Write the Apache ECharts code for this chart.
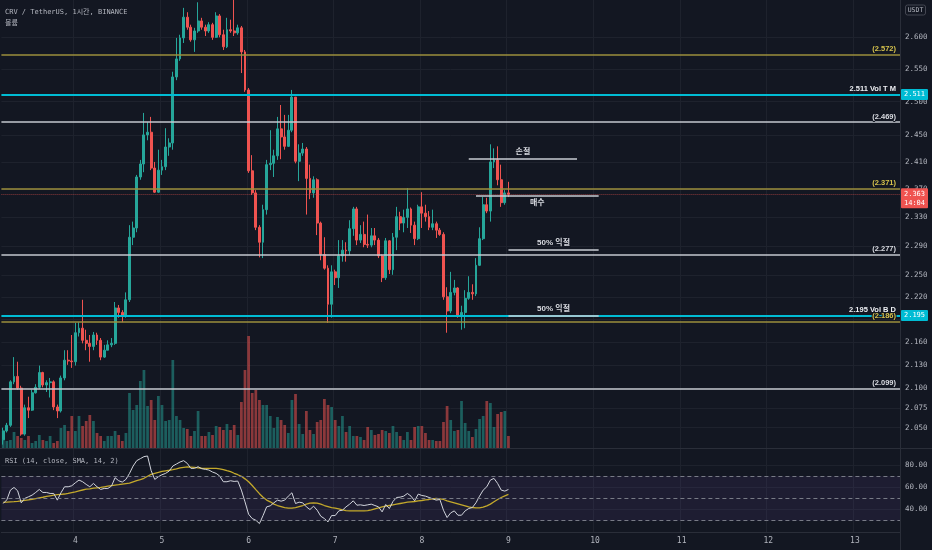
<!DOCTYPE html>
<html><head><meta charset="utf-8">
<script src="https://cdn.jsdelivr.net/npm/echarts@6/dist/echarts.min.js"></script>
<style>html,body{margin:0;padding:0;background:#131722;}#c{width:932px;height:550px;}</style>
</head><body><div id="c"></div>
<script>
// ---------- data ----------
const opens = [2.035,2.046,2.053,2.108,2.115,2.100,2.042,2.075,2.072,2.094,
2.101,2.120,2.104,2.107,2.108,2.076,2.071,2.113,2.136,2.135,
2.134,2.172,2.178,2.162,2.158,2.154,2.169,2.162,2.140,2.149,
2.156,2.158,2.205,2.199,2.194,2.216,2.302,2.315,2.388,2.407,
2.450,2.454,2.401,2.366,2.398,2.403,2.432,2.438,2.538,2.566,
2.599,2.632,2.616,2.596,2.610,2.626,2.616,2.610,2.620,2.600,
2.634,2.604,2.585,2.612,2.610,2.607,2.615,2.577,2.518,2.397,
2.365,2.316,2.295,2.341,2.406,2.408,2.419,2.459,2.447,2.433,
2.457,2.507,2.411,2.423,2.429,2.386,2.365,2.384,2.322,2.278,
2.259,2.210,2.254,2.246,2.276,2.284,2.283,2.314,2.342,2.298,
2.306,2.292,2.291,2.304,2.298,2.276,2.246,2.297,2.257,2.302,
2.331,2.322,2.330,2.342,2.319,2.300,2.345,2.336,2.331,2.316,
2.321,2.312,2.306,2.220,2.201,2.226,2.232,2.195,2.199,2.218,
2.226,2.224,2.263,2.300,2.348,2.339,2.410,2.413,2.384,2.351,
2.365];
const closes = [2.046,2.053,2.108,2.115,2.100,2.042,2.075,2.072,2.094,2.101,
2.120,2.104,2.107,2.108,2.076,2.071,2.113,2.136,2.135,2.134,
2.172,2.178,2.162,2.158,2.154,2.169,2.162,2.140,2.149,2.156,
2.158,2.205,2.199,2.194,2.216,2.302,2.315,2.388,2.407,2.450,
2.454,2.401,2.366,2.398,2.403,2.432,2.438,2.538,2.566,2.599,
2.632,2.616,2.596,2.610,2.626,2.616,2.610,2.620,2.600,2.634,
2.604,2.585,2.612,2.610,2.607,2.615,2.577,2.518,2.397,2.365,
2.316,2.295,2.341,2.406,2.408,2.419,2.459,2.447,2.433,2.457,
2.507,2.411,2.423,2.429,2.386,2.365,2.384,2.322,2.278,2.259,
2.210,2.254,2.246,2.276,2.284,2.283,2.314,2.342,2.298,2.306,
2.292,2.291,2.304,2.298,2.276,2.246,2.297,2.257,2.302,2.331,
2.322,2.330,2.342,2.319,2.300,2.345,2.336,2.331,2.316,2.321,
2.312,2.306,2.220,2.201,2.226,2.232,2.195,2.199,2.218,2.226,
2.224,2.263,2.300,2.348,2.339,2.410,2.413,2.384,2.351,2.365,
2.363];
const highs = [2.050,2.056,2.110,2.140,2.134,2.103,2.079,2.089,2.098,2.105,
2.129,2.121,2.110,2.113,2.110,2.079,2.116,2.149,2.149,2.169,
2.185,2.186,2.216,2.176,2.169,2.173,2.172,2.165,2.156,2.162,
2.165,2.213,2.209,2.202,2.226,2.319,2.324,2.391,2.413,2.483,
2.469,2.477,2.410,2.428,2.413,2.460,2.445,2.546,2.599,2.604,
2.647,2.640,2.620,2.615,2.656,2.631,2.620,2.624,2.623,2.640,
2.637,2.612,2.631,2.628,2.660,2.620,2.618,2.580,2.521,2.420,
2.369,2.319,2.348,2.413,2.457,2.428,2.477,2.495,2.480,2.480,
2.518,2.507,2.436,2.438,2.432,2.406,2.389,2.386,2.324,2.302,
2.263,2.263,2.257,2.298,2.298,2.295,2.326,2.345,2.345,2.319,
2.324,2.334,2.315,2.315,2.301,2.278,2.301,2.298,2.308,2.345,
2.338,2.341,2.372,2.344,2.324,2.348,2.366,2.348,2.339,2.341,
2.324,2.315,2.309,2.233,2.254,2.243,2.233,2.208,2.229,2.248,
2.237,2.273,2.316,2.359,2.358,2.436,2.430,2.433,2.406,2.369,
2.381];
const lows = [2.029,2.044,2.051,2.105,2.098,2.040,2.040,2.062,2.071,2.093,
2.099,2.101,2.095,2.088,2.072,2.062,2.069,2.110,2.130,2.126,
2.129,2.167,2.158,2.149,2.134,2.149,2.156,2.136,2.139,2.149,
2.153,2.156,2.192,2.186,2.192,2.213,2.291,2.309,2.384,2.395,
2.442,2.398,2.365,2.365,2.391,2.398,2.419,2.428,2.533,2.563,
2.591,2.612,2.593,2.577,2.607,2.612,2.602,2.607,2.596,2.599,
2.600,2.580,2.583,2.607,2.602,2.604,2.544,2.515,2.394,2.362,
2.312,2.274,2.273,2.334,2.398,2.388,2.413,2.414,2.428,2.432,
2.454,2.408,2.382,2.419,2.334,2.356,2.358,2.305,2.270,2.257,
2.185,2.192,2.236,2.232,2.268,2.268,2.277,2.304,2.291,2.294,
2.288,2.287,2.288,2.291,2.273,2.240,2.243,2.251,2.250,2.284,
2.312,2.309,2.315,2.308,2.291,2.298,2.315,2.324,2.312,2.312,
2.301,2.304,2.216,2.172,2.198,2.222,2.192,2.176,2.178,2.216,
2.216,2.221,2.262,2.298,2.336,2.324,2.401,2.376,2.345,2.348,
2.359];
const volumes = [170,70,80,160,120,100,80,120,50,70,
130,80,70,120,50,70,200,230,170,320,
170,320,220,270,330,270,150,120,70,120,
120,170,130,70,150,550,380,430,670,780,
420,480,280,520,430,270,280,880,320,280,
200,190,120,170,370,120,120,160,130,220,
210,180,240,180,230,130,460,780,1120,550,
580,480,430,430,320,200,310,280,230,150,
480,540,240,140,370,180,140,260,280,490,
430,410,280,220,320,160,220,120,120,110,
80,210,180,130,140,180,170,150,220,160,
120,80,160,80,210,220,220,150,80,80,
70,70,260,420,280,170,180,470,250,170,
110,190,290,320,470,450,210,340,360,370,
120];
const rsiValues = [45.4,48.7,57.4,59.8,56.8,46.0,50.0,51.4,52.9,55.3,
58.0,55.3,55.3,54.4,54.4,48.4,55.0,60.4,60.4,61.3,
64.0,66.4,64.9,62.5,60.4,63.4,60.4,58.0,58.9,58.9,
61.0,68.5,65.8,64.6,67.0,72.4,79.0,83.8,85.6,87.4,
88.0,74.8,67.0,69.4,71.2,72.4,74.5,79.0,80.8,82.6,
83.8,81.4,76.9,76.9,78.4,76.6,76.0,75.4,73.6,72.4,
70.0,64.9,64.9,65.8,65.2,65.5,57.4,46.9,35.8,31.9,
30.4,27.4,34.6,42.4,43.3,46.0,48.4,47.5,48.4,52.0,
55.0,45.4,46.6,46.0,42.4,40.0,43.0,39.4,34.0,31.9,
28.9,34.6,34.6,38.8,39.4,42.4,44.8,47.8,43.9,44.2,
43.6,44.2,44.8,43.6,42.4,37.9,44.5,40.9,47.2,50.8,
51.1,52.0,54.4,52.0,47.8,53.8,52.6,52.0,50.8,49.6,
48.4,49.0,39.4,32.8,37.0,38.8,34.9,34.9,38.8,40.9,
41.8,46.0,52.0,57.4,60.4,66.4,67.9,63.4,57.4,56.5,
58.0];
const rsiMaValues = [46.4,46.6,46.8,47.0,47.3,47.8,48.2,48.7,49.2,49.7,
50.4,51.0,51.7,52.3,52.9,53.3,53.6,53.9,54.4,55.2,
55.9,56.7,57.5,58.2,58.6,59.1,59.5,59.8,60.4,61.0,
61.5,61.9,62.3,62.8,63.3,63.6,64.8,65.9,66.8,68.0,
69.8,71.5,72.5,73.3,74.2,74.7,75.2,75.8,76.5,77.3,
77.8,78.2,78.0,77.8,77.4,77.0,76.9,76.9,76.9,76.9,
76.5,75.8,74.8,73.9,72.5,71.2,69.8,67.5,64.9,61.5,
57.8,54.2,51.0,48.5,46.9,44.8,43.6,42.7,41.8,41.2,
41.2,41.8,42.7,43.6,44.8,45.7,46.0,45.7,44.8,43.6,
42.7,41.8,41.2,40.6,39.7,39.1,38.8,38.8,38.8,38.8,
38.8,39.1,39.7,40.6,41.5,42.4,43.0,43.6,44.2,44.8,
45.4,46.0,46.6,46.9,47.2,47.8,48.1,48.7,49.0,49.6,
49.9,49.6,49.0,47.8,46.9,46.0,45.1,44.2,43.3,42.4,
41.8,41.5,41.5,42.1,43.3,44.8,46.9,49.0,50.8,52.3,
53.5];
const priceTicks = [2.600,2.550,2.500,2.450,2.410,2.370,2.330,2.290,2.250,2.220,2.190,2.160,2.130,2.100,2.075,2.050];
const rsiTicks = [40,60,80];
const rsiLevels = [70,50,30];
const levelPrices = [2.572,2.511,2.469,2.371,2.277,2.195,2.186,2.099];
const levelTexts = ['(2.572)','2.511 Vol T M','(2.469)','(2.371)','(2.277)','2.195 Vol B D','(2.186)','(2.099)'];
const levelKinds = ['fib','vol','plain','fib','plain','vol','fib','plain'];
const notePrices = [2.414,2.361,2.285,2.194];
const noteTexts = ['손절','매수','50% 익절','50% 익절'];
const noteFrom = ['8 13:00','8 15:00','9 00:00','9 00:00'];
const noteTo = ['9 19:00','10 01:00','10 01:00','10 01:00'];
const noteSide = ['top','bottom','top','top'];
const headerTitle = 'CRV / TetherUS, 1시간, BINANCE';
const volumeTitle = '볼륨';
const rsiTitle = 'RSI (14, close, SMA, 14, 2)';
const quoteUnit = 'USDT';
const countdown = '14:04';
// hourly slots: first bar = day 3 04:00
const startDay = 3, startHour = 4, slotCount = 249;
const hours = [];
for (let i = 0; i < slotCount; i++) {
  const t = startHour + i;
  hours.push((startDay + Math.floor(t / 24)) + ' ' + String(t % 24).padStart(2, '0') + ':00');
}

// ---------- layout / style ----------
const W = 932;
const gridLeft = 1.4, gridRight = 32;
const mainTop = 0, mainHeight = 448;
const volTop = 318, volHeight = 130, volMax = 1300;
const rsiTop = 449, rsiHeight = 83, rsiMin = 19.85, rsiMax = 94.26;
const priceMin = 2.0248, priceMax = 2.6597;
const UP = '#26a69a', DOWN = '#ef5350';
const TXT = '#b2b5be', GRIDC = '#1e222d', SEP = '#2a2e39';
const MONO = "'DejaVu Sans Mono','Noto Sans CJK KR',monospace";
const SANS = "'Liberation Sans','Noto Sans CJK KR',sans-serif";
const L = Math.log;
const isDay = (idx, val) => String(val).endsWith(' 00:00');
const levelStyle = {
  fib: { line: '#9d8f3d', text: '#d6c24c', width: 1.5 },
  plain: { line: '#c5c8cf', text: '#d8dae0', width: 1.5 },
  vol: { line: '#00bcd4', text: '#eceef2', width: 2 }
};

const chart = echarts.init(document.getElementById('c'), null, { renderer: 'canvas' });

const levelLines = levelPrices.map((p, i) => {
  const s = levelStyle[levelKinds[i]];
  return {
    yAxis: L(p),
    lineStyle: { color: s.line, width: s.width, type: 'solid' },
    label: { show: true, formatter: levelTexts[i], position: 'insideEndTop', distance: [4, 2],
      color: s.text, fontSize: 7.5, fontWeight: 'bold', fontFamily: SANS,
      textBorderColor: '#131722', textBorderWidth: 2 }
  };
});
const noteLines = notePrices.map((p, i) => {
  const common = {
    lineStyle: { color: '#c9ccd3', width: 1.6, type: 'solid' },
    label: { show: true, formatter: noteTexts[i],
      position: noteSide[i] === 'top' ? 'insideMiddleTop' : 'insideMiddleBottom', distance: 3,
      color: '#d8dae0', fontSize: 8, fontWeight: 'bold', fontFamily: SANS,
      textBorderColor: '#131722', textBorderWidth: 2 }
  };
  return [Object.assign({ coord: [noteFrom[i], L(p)] }, common), Object.assign({ coord: [noteTo[i], L(p)] }, common)];
});
const lastClose = closes[closes.length - 1];
const lastOpen = opens[opens.length - 1];
const lastColor = lastClose >= lastOpen ? UP : DOWN;

const option = {
  backgroundColor: '#131722',
  animation: false,
  grid: [
    { left: gridLeft, right: gridRight, top: mainTop, height: mainHeight },
    { left: gridLeft, right: gridRight, top: volTop, height: volHeight },
    { left: gridLeft, right: gridRight, top: rsiTop, height: rsiHeight }
  ],
  xAxis: [
    { type: 'category', gridIndex: 0, data: hours, boundaryGap: true,
      axisLine: { show: false }, axisTick: { show: false, alignWithLabel: true }, axisLabel: { show: false },
      splitLine: { show: true, interval: isDay, lineStyle: { color: GRIDC, width: 1 } } },
    { type: 'category', gridIndex: 1, data: hours, boundaryGap: true,
      axisLine: { show: false }, axisTick: { show: false }, axisLabel: { show: false }, splitLine: { show: false } },
    { type: 'category', gridIndex: 2, data: hours, boundaryGap: true,
      axisLine: { show: true, lineStyle: { color: SEP } }, axisTick: { show: false, alignWithLabel: true },
      axisLabel: { show: true, interval: isDay, formatter: v => v.split(' ')[0], color: TXT, fontSize: 8, fontFamily: MONO, margin: 5 },
      splitLine: { show: true, interval: isDay, lineStyle: { color: GRIDC, width: 1 } } }
  ],
  yAxis: [
    { type: 'value', gridIndex: 0, position: 'right', min: L(priceMin), max: L(priceMax),
      axisLine: { show: true, lineStyle: { color: SEP } },
      axisTick: { show: false, customValues: priceTicks.map(L) },
      axisLabel: { customValues: priceTicks.map(L), formatter: v => Math.exp(v).toFixed(3), color: TXT, fontSize: 7.5, fontFamily: MONO, margin: 5 },
      splitLine: { show: true, lineStyle: { color: GRIDC, width: 1 } } },
    { type: 'value', gridIndex: 1, min: 0, max: volMax, show: false, splitLine: { show: false } },
    { type: 'value', gridIndex: 2, position: 'right', min: rsiMin, max: rsiMax,
      axisLine: { show: true, lineStyle: { color: SEP } },
      axisTick: { show: false, customValues: rsiTicks },
      axisLabel: { customValues: rsiTicks, formatter: v => v.toFixed(2), color: TXT, fontSize: 7.5, fontFamily: MONO, margin: 5 },
      splitLine: { show: true, lineStyle: { color: GRIDC, width: 1 } } }
  ],
  series: [
    { type: 'bar', name: 'volume', xAxisIndex: 1, yAxisIndex: 1, z: 1, barWidth: '76%',
      data: volumes.map((v, i) => ({ value: v, itemStyle: { color: closes[i] >= opens[i] ? 'rgba(38,166,154,0.5)' : 'rgba(239,83,80,0.55)' } })) },
    { type: 'candlestick', name: 'CRV', xAxisIndex: 0, yAxisIndex: 0, z: 3, barWidth: 2.4,
      data: opens.map((o, i) => [L(o), L(closes[i]), L(lows[i]), L(highs[i])]),
      itemStyle: { color: UP, color0: DOWN, borderColor: UP, borderColor0: DOWN, borderWidth: 1 },
      markLine: { silent: true, symbol: ['none', 'none'], animation: false, precision: 8,
        data: [
          { yAxis: L(lastClose), lineStyle: { color: 'rgba(239,83,80,0.55)', width: 1, type: 'dotted' }, label: { show: false } }
        ].concat(levelLines).concat(noteLines) } },
    { type: 'line', name: 'RSI', xAxisIndex: 2, yAxisIndex: 2, data: rsiValues, symbol: 'none', z: 4,
      lineStyle: { color: '#d1d4dc', width: 1 },
      markLine: { silent: true, symbol: ['none', 'none'], label: { show: false }, precision: 4,
        lineStyle: { color: '#787b86', width: 1, type: [4, 3] },
        data: rsiLevels.map(v => ({ yAxis: v })) },
      markArea: { silent: true, itemStyle: { color: 'rgba(126,87,194,0.1)' },
        data: [[{ yAxis: Math.min(...rsiLevels) }, { yAxis: Math.max(...rsiLevels) }]] } },
    { type: 'line', name: 'RSI MA', xAxisIndex: 2, yAxisIndex: 2, data: rsiMaValues, symbol: 'none', z: 3,
      lineStyle: { color: '#c4a92b', width: 1.3 } }
  ]
};
chart.setOption(option);

// ---------- overlay labels positioned through the chart's own scales ----------
const axisX = W - gridRight;
const g = [];
function priceBox(price, lines, fill) {
  const y = chart.convertToPixel({ yAxisIndex: 0 }, L(price));
  const h = lines.length === 1 ? 11 : 20;
  const top = lines.length === 1 ? y - 5.5 : y - 6;
  g.push({ type: 'rect', z: 100, shape: { x: axisX + 1, y: top, width: 27, height: h, r: 1 }, style: { fill } });
  lines.forEach((t, k) => g.push({ type: 'text', z: 101,
    style: { text: t, x: axisX + 14.5, y: top + 5.5 + k * 9.5, fill: '#ffffff', font: '7px ' + MONO, align: 'center', verticalAlign: 'middle' } }));
}
levelPrices.forEach((p, i) => { if (levelKinds[i] === 'vol') priceBox(p, [p.toFixed(3)], '#00bcd4'); });
priceBox(lastClose, [lastClose.toFixed(3), countdown], lastColor);
g.push({ type: 'text', z: 100, style: { text: headerTitle, x: 5, y: 12, fill: TXT, font: '7px ' + MONO, verticalAlign: 'middle' } });
g.push({ type: 'text', z: 100, style: { text: volumeTitle, x: 5, y: 23, fill: TXT, font: '7px ' + MONO, verticalAlign: 'middle' } });
g.push({ type: 'text', z: 100, style: { text: rsiTitle, x: 5, y: 461, fill: TXT, font: '7px ' + MONO, verticalAlign: 'middle' } });
g.push({ type: 'rect', z: 100, shape: { x: axisX + 5.5, y: 5, width: 20, height: 10, r: 2 }, style: { fill: 'none', stroke: '#434651', lineWidth: 1 } });
g.push({ type: 'text', z: 101, style: { text: quoteUnit, x: axisX + 15.5, y: 10, fill: TXT, font: '6.5px ' + MONO, align: 'center', verticalAlign: 'middle' } });
g.push({ type: 'line', z: 50, shape: { x1: 0, y1: mainTop + mainHeight + 0.5, x2: W, y2: mainTop + mainHeight + 0.5 }, style: { stroke: SEP, lineWidth: 1 } });
g.push({ type: 'line', z: 50, shape: { x1: axisX + 0.5, y1: rsiTop + rsiHeight, x2: axisX + 0.5, y2: 550 }, style: { stroke: SEP, lineWidth: 1 } });
chart.setOption({ graphic: g });
</script>
</body></html>
